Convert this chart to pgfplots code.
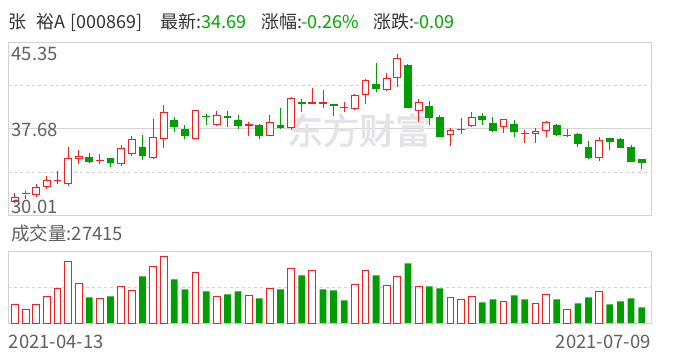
\documentclass[border=0pt]{standalone}
\usepackage{pgfplots}
\pgfplotsset{compat=1.18}
\usepgfplotslibrary{statistics}
\usepackage{fontspec}
\setmainfont{Noto Sans CJK SC}
\newfontfamily\wmfont[FakeBold=2]{Noto Sans CJK SC}
\definecolor{upred}{RGB}{238,34,34}
\definecolor{dngreen}{RGB}{0,158,0}
\definecolor{numgreen}{RGB}{0,168,0}
\definecolor{txt}{RGB}{51,51,51}
\definecolor{lbl}{RGB}{95,95,100}
\definecolor{bord}{RGB}{210,210,214}
\definecolor{gridc}{RGB}{212,212,212}
\definecolor{wm}{RGB}{226,226,232}
\pgfplotstableread{
idx vol
1 32083
2 23333
3 32083
4 46083
5 60083
6 107333
7 68833
9 42583
11 63583
12 56583
14 98583
15 116667
18 88083
20 46083
23 47833
25 60083
27 95083
29 91583
33 67667
34 91583
36 65333
37 81083
39 63583
42 44333
43 40833
44 46083
47 37917
50 34417
51 49583
53 23333
56 55417
}\volup
\pgfplotstableread{
idx vol
8 44917
10 46667
13 81667
16 76417
17 58917
19 55417
21 50167
22 55417
24 43167
26 58917
28 83417
30 58917
31 57167
32 39667
35 83417
38 104417
40 64167
41 60667
45 36167
46 41417
48 48417
49 41417
52 41417
54 34417
55 44917
57 32667
58 37917
59 43167
60 27415
}\voldn
\pgfplotsset{
  up/.style={draw=upred, fill=white, line width=1pt},
  dn/.style={draw=dngreen, fill=dngreen, line width=1pt},
  boxplot/draw direction=y,
  boxplot/box extend=0.64,
  boxplot/whisker extend=0,
}
\newcommand{\cs}[6]{% idx, style, low, bottom, top, high
  \addplot[#2, boxplot prepared={draw position=#1, lower whisker=#3, lower quartile=#4, median=#4, upper quartile=#5, upper whisker=#6}] coordinates {};
}
\newcommand{\fs}{\fontsize{18.5}{21}\selectfont}
\begin{document}
\begin{tikzpicture}
\path[use as bounding box] (0,0) rectangle (688pt,360pt);
\begin{axis}[
  at={(8.3pt,145pt)}, anchor=south west, scale only axis,
  width=642.7pt, height=172.3pt,
  xmin=0.37, xmax=60.88, ymin=30.01, ymax=45.35,
  axis line style={draw=bord, line width=0.9pt},
  xtick=\empty, ytick={37.68}, yticklabels={}, major tick length=0pt,
  ymajorgrids, major grid style={draw=gridc, line width=0.8pt, solid},
  extra y ticks={33.845,41.515}, extra y tick labels={},
  extra y tick style={major tick length=0pt, grid=major, major grid style={draw=gridc, line width=0.8pt, dash pattern=on 3pt off 3pt}},
  clip=false,
]
\node[text=wm, font=\wmfont\fontsize{36}{38}\selectfont, anchor=center] at (axis cs:33.4,37.55) {东方财富};
\cs{1}{up}{31.05}{31.23}{31.58}{32.00}
\cs{2}{up}{31.40}{31.88}{31.92}{32.18}
\cs{3}{up}{31.64}{31.85}{32.50}{32.77}
\cs{4}{up}{32.30}{32.56}{33.10}{33.48}
\cs{5}{up}{32.77}{33.08}{33.12}{33.93}
\cs{6}{up}{32.62}{32.83}{35.00}{36.06}
\cs{7}{up}{34.58}{35.06}{35.26}{35.80}
\cs{8}{dn}{34.67}{34.79}{35.17}{35.50}
\cs{9}{up}{34.58}{34.83}{34.87}{35.41}
\cs{10}{dn}{34.31}{34.67}{35.00}{35.11}
\cs{11}{up}{34.40}{34.61}{35.95}{36.24}
\cs{12}{up}{35.26}{35.47}{36.75}{37.04}
\cs{13}{dn}{34.94}{35.29}{35.98}{37.13}
\cs{14}{up}{35.03}{35.11}{36.92}{38.56}
\cs{15}{up}{36.00}{36.84}{39.15}{39.80}
\cs{16}{dn}{37.43}{37.87}{38.38}{38.74}
\cs{17}{dn}{36.75}{37.07}{37.58}{38.02}
\cs{18}{up}{36.75}{36.84}{39.33}{39.33}
\cs{19}{dn}{38.05}{38.74}{38.80}{39.00}
\cs{20}{up}{37.93}{38.08}{38.88}{39.27}
\cs{21}{dn}{37.87}{38.72}{38.75}{39.27}
\cs{22}{dn}{37.70}{37.96}{38.44}{38.88}
\cs{23}{up}{37.07}{37.96}{38.05}{38.29}
\cs{24}{dn}{36.81}{37.07}{38.02}{38.11}
\cs{25}{up}{37.07}{37.10}{38.26}{38.91}
\cs{26}{dn}{37.67}{37.79}{38.02}{39.54}
\cs{27}{up}{37.61}{37.79}{40.40}{40.52}
\cs{28}{dn}{39.21}{39.98}{40.07}{40.37}
\cs{29}{up}{39.95}{39.95}{40.04}{41.32}
\cs{30}{up}{39.57}{39.96}{40.00}{41.14}
\cs{31}{dn}{38.85}{39.77}{39.86}{39.86}
\cs{32}{up}{39.18}{39.57}{39.62}{40.07}
\cs{33}{up}{39.45}{39.48}{40.69}{40.81}
\cs{34}{up}{39.92}{40.75}{42.00}{42.15}
\cs{35}{dn}{40.99}{41.26}{41.67}{43.54}
\cs{36}{up}{41.08}{41.20}{42.18}{42.65}
\cs{37}{up}{41.44}{42.24}{43.96}{44.34}
\cs{38}{dn}{39.57}{39.57}{43.28}{43.45}
\cs{39}{up}{38.32}{39.33}{40.07}{40.34}
\cs{40}{dn}{38.02}{38.68}{39.71}{40.16}
\cs{41}{dn}{36.98}{37.04}{38.65}{38.88}
\cs{42}{up}{36.15}{37.19}{37.55}{37.73}
\cs{43}{up}{37.25}{37.60}{37.64}{38.65}
\cs{44}{up}{37.82}{37.96}{38.71}{39.18}
\cs{45}{dn}{38.02}{38.50}{38.74}{39.09}
\cs{46}{dn}{37.40}{37.52}{38.20}{38.74}
\cs{47}{up}{37.31}{37.87}{38.53}{38.53}
\cs{48}{dn}{36.98}{37.43}{38.11}{38.47}
\cs{49}{up}{36.45}{37.26}{37.30}{37.58}
\cs{50}{up}{36.45}{37.28}{37.46}{37.73}
\cs{51}{up}{36.98}{37.55}{38.26}{38.38}
\cs{52}{dn}{37.07}{37.16}{37.99}{38.08}
\cs{53}{up}{36.95}{37.08}{37.12}{37.67}
\cs{54}{dn}{36.09}{36.36}{37.22}{37.28}
\cs{55}{dn}{35.03}{35.11}{36.06}{36.60}
\cs{56}{up}{34.85}{35.14}{36.60}{36.95}
\cs{57}{dn}{35.80}{36.54}{36.78}{36.87}
\cs{58}{dn}{36.01}{36.01}{36.69}{36.87}
\cs{59}{dn}{34.76}{34.78}{36.06}{36.24}
\cs{60}{dn}{34.14}{34.69}{34.93}{34.93}
\end{axis}
\begin{axis}[
  at={(8.3pt,37pt)}, anchor=south west, scale only axis,
  width=642.7pt, height=71.3pt,
  xmin=0.37, xmax=60.88, ymin=0, ymax=124800,
  axis line style={draw=bord, line width=0.9pt},
  xtick=\empty, ytick={62400}, yticklabels={}, major tick length=0pt,
  ymajorgrids, major grid style={draw=gridc, line width=0.8pt, dash pattern=on 3pt off 3pt},
  scaled y ticks=false,
]
\addplot[ybar, bar width=0.64, bar shift=0pt, draw=upred, fill=white, line width=1pt] table[x=idx, y=vol] {\volup};
\addplot[ybar, bar width=0.64, bar shift=0pt, draw=none, fill=dngreen] table[x=idx, y=vol] {\voldn};
\end{axis}
\begin{scope}[every node/.style={anchor=base west, inner sep=0pt, font=\fontsize{18}{21}\selectfont, text=txt}]
\node at (8.3pt,332pt) {张};
\node at (36.7pt,332pt) {裕A};
\node at (70.5pt,332pt) {[000869]};
\node at (160pt,332pt) {最新:};
\node[text=numgreen] at (201.7pt,332pt) {34.69};
\node at (261.7pt,332pt) {涨幅:};
\node[text=numgreen] at (301.5pt,332pt) {-0.26\%};
\node at (373.3pt,332pt) {涨跌:};
\node[text=numgreen] at (413.5pt,332pt) {-0.09};
\end{scope}
\begin{scope}[every node/.style={anchor=base west, inner sep=0pt, font=\fs, text=lbl}]
\node at (11.5pt,300pt) {45.35};
\node at (11.5pt,223.3pt) {37.68};
\node at (11.5pt,146.3pt) {30.01};
\node at (11pt,120pt) {成交量:27415};
\node at (8.7pt,12pt) {2021-04-13};
\node[anchor=base east] at (651pt,12pt) {2021-07-09};
\end{scope}
\end{tikzpicture}
\end{document}
